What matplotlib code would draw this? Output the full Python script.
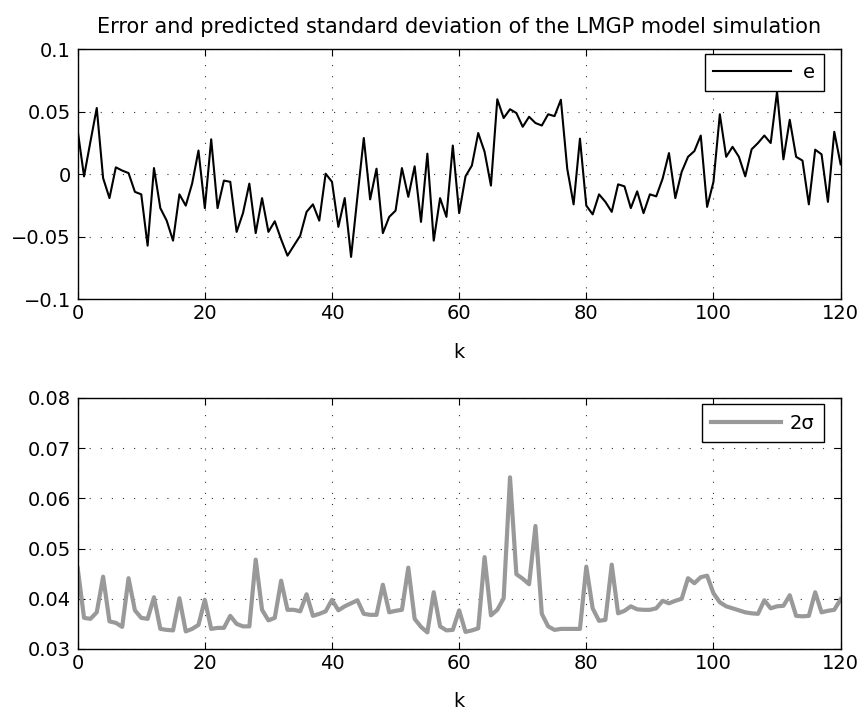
import matplotlib
matplotlib.use("Agg")
import matplotlib.pyplot as plt
import numpy as np

plt.rcParams['font.family'] = ['DejaVu Sans']

title = "Error and predicted standard deviation of the LMGP model simulation"

e_values = [
    0.035, -0.0016, 0.026, 0.053, -0.003, -0.019, 0.0056, 0.003, 0.001, -0.014,
    -0.016, -0.057, 0.005, -0.027, -0.037, -0.053, -0.016, -0.025, -0.0074, 0.019,
    -0.027, 0.028, -0.027, -0.005, -0.006, -0.046, -0.031, -0.0074, -0.047, -0.019,
    -0.046, -0.0375, -0.052, -0.065, -0.057, -0.049, -0.030, -0.024, -0.037, 0.0005,
    -0.006, -0.042, -0.019, -0.066, -0.018, 0.029, -0.020, 0.0045, -0.047, -0.034,
    -0.029, 0.005, -0.018, 0.0064, -0.038, 0.0165, -0.053, -0.019, -0.034, 0.023,
    -0.031, -0.0016, 0.007, 0.033, 0.018, -0.009, 0.060, 0.045, 0.052, 0.049,
    0.038, 0.046, 0.041, 0.039, 0.048, 0.0465, 0.0596, 0.0045, -0.024, 0.0285,
    -0.025, -0.032, -0.016, -0.022, -0.030, -0.008, -0.0096, -0.027, -0.0136, -0.031,
    -0.016, -0.0176, -0.0035, 0.017, -0.019, 0.002, 0.014, 0.0186, 0.031, -0.026,
    -0.006, 0.048, 0.014, 0.022, 0.014, -0.0016, 0.020, 0.025, 0.031, 0.025,
    0.066, 0.012, 0.0436, 0.014, 0.011, -0.024, 0.0197, 0.016, -0.022, 0.034,
    0.008,
]

sigma2_values = [
    0.0461, 0.0362, 0.0360, 0.0373, 0.0444, 0.0355, 0.0352, 0.0344, 0.0441, 0.0377,
    0.0362, 0.0360, 0.0403, 0.0340, 0.0338, 0.0337, 0.0401, 0.0335, 0.0340, 0.0348,
    0.0398, 0.0340, 0.0342, 0.0342, 0.0366, 0.0350, 0.0345, 0.0345, 0.0478, 0.0378,
    0.0357, 0.0362, 0.0436, 0.0378, 0.0378, 0.0375, 0.0409, 0.0366, 0.0370, 0.0375,
    0.0398, 0.0377, 0.0385, 0.0391, 0.0397, 0.0370, 0.0368, 0.0368, 0.0428, 0.0373,
    0.0376, 0.0378, 0.0462, 0.0360, 0.0344, 0.0333, 0.0413, 0.0345, 0.0337, 0.0338,
    0.0377, 0.0334, 0.0337, 0.0341, 0.0483, 0.0367, 0.0378, 0.0401, 0.0642, 0.0449,
    0.0440, 0.0429, 0.0545, 0.0370, 0.0345, 0.0338, 0.0340, 0.0340, 0.0340, 0.0340,
    0.0464, 0.0381, 0.0356, 0.0358, 0.0468, 0.0371, 0.0376, 0.0385, 0.0379, 0.0378,
    0.0378, 0.0381, 0.0396, 0.0391, 0.0396, 0.0400, 0.0441, 0.0431, 0.0443, 0.0446,
    0.0411, 0.0393, 0.0385, 0.0381, 0.0377, 0.0373, 0.0371, 0.0370, 0.0397, 0.0381,
    0.0385, 0.0386, 0.0407, 0.0366, 0.0365, 0.0366, 0.0413, 0.0373, 0.0376, 0.0378,
    0.0399,
]

k = np.arange(len(e_values))

x_ticks = [0, 20, 40, 60, 80, 100, 120]
e_yticks = [-0.1, -0.05, 0, 0.05, 0.1]
e_yticklabels = ["\u22120.1", "\u22120.05", "0", "0.05", "0.1"]
s_yticks = [0.03, 0.04, 0.05, 0.06, 0.07, 0.08]
s_yticklabels = ["0.03", "0.04", "0.05", "0.06", "0.07", "0.08"]

FS = 14
fig = plt.figure(figsize=(8.66, 7.13), dpi=100)
ax1 = fig.add_axes([0.0897, 0.580, 0.881, 0.351])
ax2 = fig.add_axes([0.0897, 0.0898, 0.881, 0.352])


def style(ax):
    ax.set_xlim(0, 120)
    ax.set_xticks(x_ticks)
    ax.tick_params(direction='in', length=5, width=0.8, top=True, right=True,
                   labelsize=FS)
    ax.tick_params(axis='x', pad=3.5)
    ax.tick_params(axis='y', pad=5)
    ax.grid(True, linestyle=(0, (1, 9)), color='#333333', linewidth=0.8)
    for s in ax.spines.values():
        s.set_linewidth(1.0)
    ax.set_xlabel('k', fontsize=FS, labelpad=14)


ax1.plot(k, e_values, color='black', linewidth=1.5, label='e')
style(ax1)
ax1.set_ylim(-0.1, 0.1)
ax1.set_yticks(e_yticks)
ax1.set_yticklabels(e_yticklabels)
ax1.set_title(title, fontsize=15, pad=12)
leg1 = ax1.legend(loc='upper right', bbox_to_anchor=(0.9777, 0.980),
                  borderaxespad=0, fontsize=FS, fancybox=False, framealpha=1,
                  edgecolor='black', handlelength=4.0, handletextpad=0.6,
                  borderpad=0.45)
leg1.get_frame().set_linewidth(1.0)

ax2.plot(k, sigma2_values, color='#999999', linewidth=3.0, label='2\u03c3')
style(ax2)
ax2.set_ylim(0.03, 0.08)
ax2.set_yticks(s_yticks)
ax2.set_yticklabels(s_yticklabels)
leg2 = ax2.legend(loc='upper right', bbox_to_anchor=(0.9777, 0.976),
                  borderaxespad=0, fontsize=FS, fancybox=False, framealpha=1,
                  edgecolor='black', handlelength=3.6, handletextpad=0.4,
                  borderpad=0.5)
leg2.get_frame().set_linewidth(1.0)

fig.savefig('out.png', dpi=100)
